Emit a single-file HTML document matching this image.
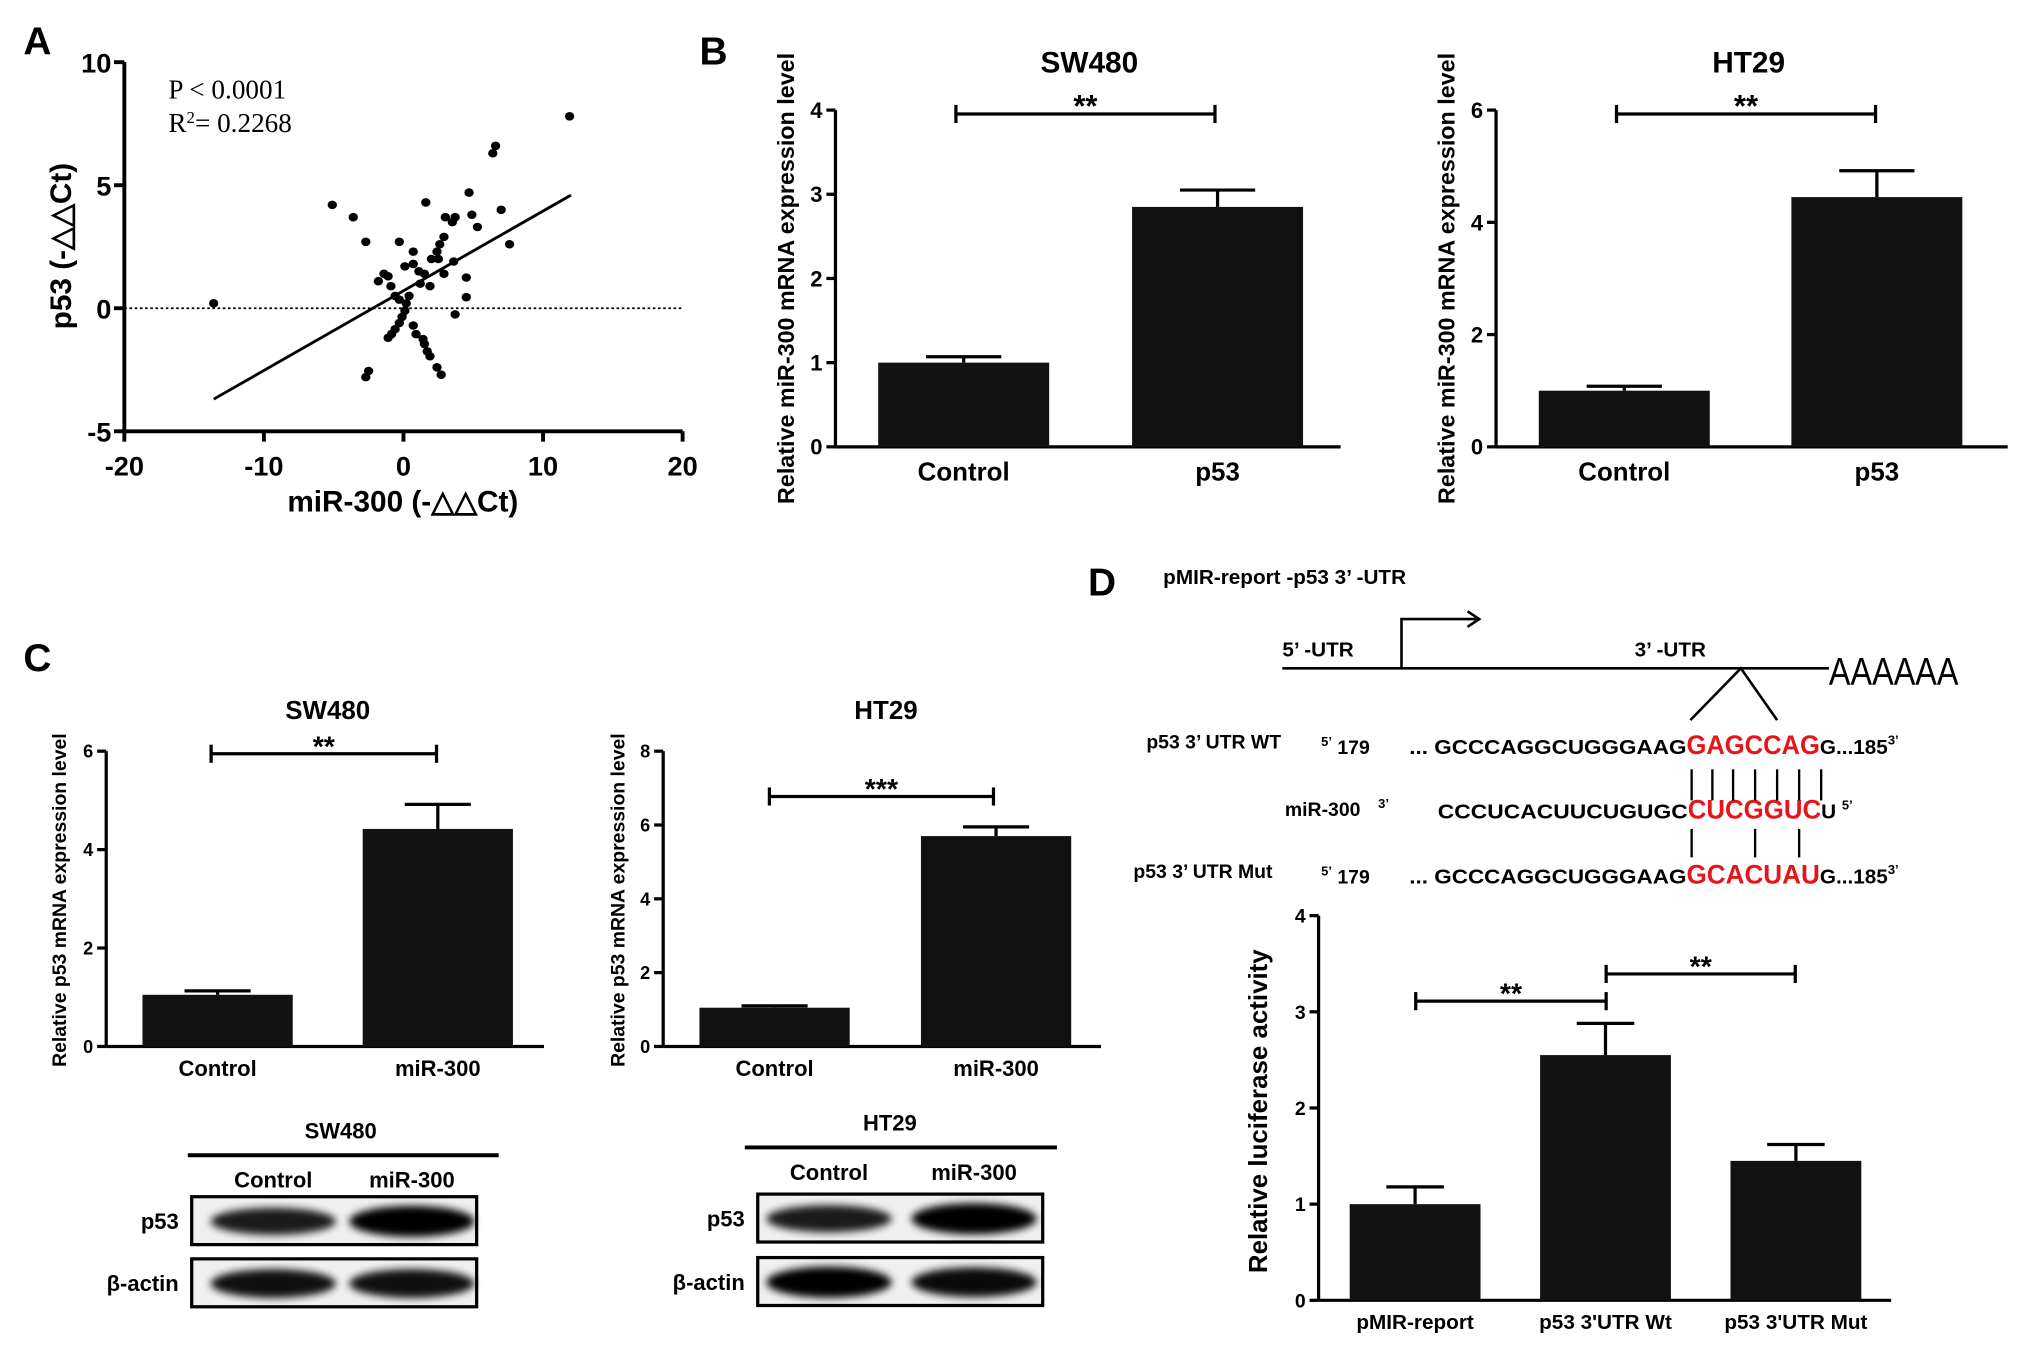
<!DOCTYPE html>
<html><head><meta charset="utf-8">
<style>
html,body{margin:0;padding:0;background:#fff;}
svg{display:block;}
text{font-family:"Liberation Sans",Arial,sans-serif;}
</style></head>
<body>
<svg id="fig" width="2031" height="1356" viewBox="0 0 1568 1047" preserveAspectRatio="none" xmlns="http://www.w3.org/2000/svg">
<defs>
<filter id="blur" x="-20%" y="-50%" width="140%" height="200%"><feGaussianBlur stdDeviation="3"/></filter>
</defs>
<rect x="0" y="0" width="1568" height="1047" fill="#fff"/>
<text x="18" y="42" font-size="30" font-weight="bold">A</text>
<text x="540" y="50" font-size="30" font-weight="bold">B</text>
<text x="18" y="518" font-size="30" font-weight="bold">C</text>
<text x="840" y="460" font-size="30" font-weight="bold">D</text>
<g id="root"></g>
</svg>
<script>
// ---------- Panel A data ----------
const scatterX = [-13.6,-5.1,-3.6,-2.7,-0.3,1.6,4.7,4.9,5.3,7.0,7.6,6.4,6.6,11.9,3.0,3.7,3.5,2.9,2.6,2.4,2.0,2.5,3.6,0.7,0.1,0.7,1.1,1.5,2.9,4.5,4.5,1.9,1.2,-1.4,-1.1,-0.9,-1.8,-0.6,-0.3,0.4,0.2,0.1,-0.1,-0.3,-0.6,-0.85,-1.1,3.7,0.7,0.9,1.4,1.5,1.7,1.9,2.4,2.7,-2.5,-2.7];
const scatterY = [0.2,4.2,3.7,2.7,2.7,4.3,4.7,3.8,3.3,4.0,2.6,6.3,6.6,7.8,3.7,3.7,3.5,2.9,2.6,2.3,2.0,2.0,1.9,2.3,1.7,1.8,1.5,1.4,1.4,1.25,0.45,0.9,1.0,1.4,1.3,0.9,1.1,0.5,0.35,0.5,0.2,-0.1,-0.35,-0.6,-0.85,-1.05,-1.2,-0.25,-0.7,-1.05,-1.25,-1.45,-1.75,-1.95,-2.4,-2.7,-2.55,-2.8];
const fitSlope = 0.324, fitIntercept = 0.71, fitRange = [-13.6, 12];
const aXTicks = [-20,-10,0,10,20];
const aYTicks = [-5,0,5,10];
// ---------- Panel B ----------
const bCategories = ["Control","p53"];
const bSW480Values = [1.0, 2.85];
const bSW480Errors = [0.07, 0.2];
const bSW480Ticks = [0,1,2,3,4];
const bHT29Values = [1.0, 4.45];
const bHT29Errors = [0.08, 0.47];
const bHT29Ticks = [0,2,4,6];
// ---------- Panel C ----------
const cCategories = ["Control","miR-300"];
const cSW480Values = [1.05, 4.42];
const cSW480Errors = [0.08, 0.5];
const cSW480Ticks = [0,2,4,6];
const cHT29Values = [1.05, 5.7];
const cHT29Errors = [0.05, 0.25];
const cHT29Ticks = [0,2,4,6,8];
// ---------- Panel D ----------
const dCategories = ["pMIR-report","p53 3'UTR Wt","p53 3'UTR Mut"];
const dValues = [1.0, 2.55, 1.45];
const dErrors = [0.18, 0.33, 0.17];
const dTicks = [0,1,2,3,4];

const NS="http://www.w3.org/2000/svg";
const root=document.getElementById('root');
function mk(tag,attrs,parent,txt){const e=document.createElementNS(NS,tag);for(const k in attrs)e.setAttribute(k,attrs[k]);if(txt!==undefined)e.textContent=txt;(parent||root).appendChild(e);return e;}
function lin(d0,d1,r0,r1){return v=>r0+(v-d0)/(d1-d0)*(r1-r0);}

// ===== Panel A =====
{
const g=mk('g',{});


const xs=lin(-20,20,96,527), ys=lin(-5,10,333,48);
mk('line',{x1:96,y1:48,x2:96,y2:333,stroke:'#000','stroke-width':3},g);
mk('line',{x1:96,y1:333,x2:527,y2:333,stroke:'#000','stroke-width':3},g);
aXTicks.forEach(t=>{const x=xs(t);mk('line',{x1:x,y1:333,x2:x,y2:341,stroke:'#000','stroke-width':3},g);
 const l=mk('text',{x:x,y:367,'font-size':21,'font-weight':'bold','text-anchor':'middle'},g,String(t));
 });
aYTicks.forEach(t=>{const y=ys(t);mk('line',{x1:88,y1:y,x2:96,y2:y,stroke:'#000','stroke-width':3},g);
 const l=mk('text',{x:86,y:y+8,'font-size':21,'font-weight':'bold','text-anchor':'end'},g,String(t));
 });
const z=mk('line',{x1:96,y1:ys(0),x2:527,y2:ys(0),stroke:'#000','stroke-width':1.3,'stroke-dasharray':'2,2'},g);

const f=mk('line',{x1:xs(fitRange[0]),y1:ys(fitSlope*fitRange[0]+fitIntercept),x2:xs(fitRange[1]),y2:ys(fitSlope*fitRange[1]+fitIntercept),stroke:'#000','stroke-width':2.2},g);

scatterX.forEach((v,i)=>{const c=mk('ellipse',{cx:xs(v),cy:ys(scatterY[i]),rx:3.6,ry:3.3,fill:'#000'},g);
 });
const t1=mk('text',{x:130,y:76,'font-size':21,style:'font-family:"Liberation Serif",serif'},g,'P \u003c 0.0001');

const t2=mk('text',{x:130,y:102,'font-size':21,style:'font-family:"Liberation Serif",serif'},g);

t2.innerHTML='R<tspan font-size="13" dy="-7">2</tspan><tspan dy="7">= 0.2268</tspan>';
const xl=mk('text',{x:311,y:395,'font-size':23,'font-weight':'bold','text-anchor':'middle'},g,'miR-300 (-\u25B3\u25B3Ct)');

const yl=mk('text',{x:0,y:0,'font-size':23,'font-weight':'bold','text-anchor':'middle',transform:'translate(55,190) rotate(-90)'},g,'p53 (-\u25B3\u25B3Ct)');

}

// ===== Generic bar chart =====
function barChart(o){
 const g=mk('g',{});
 
 
 const ys=lin(0,o.ymax,o.y0,o.yTop);
 const sw=o.sw||2.5;
 mk('line',{x1:o.ax,y1:o.yTop,x2:o.ax,y2:o.y0,stroke:'#000','stroke-width':sw},g);
 mk('line',{x1:o.ax,y1:o.y0,x2:o.axEnd,y2:o.y0,stroke:'#000','stroke-width':sw},g);
 o.ticks.forEach(t=>{const y=ys(t);mk('line',{x1:o.ax-7,y1:y,x2:o.ax,y2:y,stroke:'#000','stroke-width':sw},g);
  const l=mk('text',{x:o.ax-10,y:y+o.tf*0.36,'font-size':o.tf,'font-weight':'bold','text-anchor':'end'},g,String(t));
  });
 o.values.forEach((v,i)=>{
  const x0=o.barX[i], w=o.barW, cx=x0+w/2;
  const e=o.errors[i];
  const el=mk('line',{x1:cx,y1:ys(v),x2:cx,y2:ys(v+e),stroke:'#000','stroke-width':2.5},g);
  
  mk('line',{x1:cx-w*0.22,y1:ys(v+e),x2:cx+w*0.22,y2:ys(v+e),stroke:'#000','stroke-width':2.5},g);
  const r=mk('rect',{x:x0,y:ys(v),width:w,height:o.y0-ys(v),fill:'#111'},g);
  
  
  const l=mk('text',{x:cx,y:o.y0+o.xf+6,'font-size':o.xf,'font-weight':'bold','text-anchor':'middle'},g,o.cats[i]);
  
 });
 if(o.title){const t=mk('text',{x:o.titleX,y:o.titleY,'font-size':o.titleF,'font-weight':'bold','text-anchor':'middle'},g,o.title);
  }
 const yl=mk('text',{x:0,y:0,'font-size':o.ylf,'font-weight':'bold','text-anchor':'middle',transform:`translate(${o.ylx},${o.yly}) rotate(-90)`},g,o.ylabel);
 
 (o.brackets||[]).forEach(b=>{
  const bg=mk('g',{},g);
  
  mk('line',{x1:b[0],y1:b[2],x2:b[1],y2:b[2],stroke:'#000','stroke-width':2.5},bg);
  mk('line',{x1:b[0],y1:b[2]-7,x2:b[0],y2:b[2]+7,stroke:'#000','stroke-width':2.5},bg);
  mk('line',{x1:b[1],y1:b[2]-7,x2:b[1],y2:b[2]+7,stroke:'#000','stroke-width':2.5},bg);
  mk('text',{x:(b[0]+b[1])/2,y:b[2]+2,'font-size':o.sf||24,'font-weight':'bold','text-anchor':'middle'},bg,b[3]);
 });
}
barChart({name:'bar-chart-b-sw480',ax:645,axEnd:1035,y0:345,yTop:85,ymax:4,ticks:bSW480Ticks,tf:17,xf:20,values:bSW480Values,errors:bSW480Errors,
 barX:[678,874],barW:132,cats:bCategories,title:'SW480',titleX:841,titleY:56,titleF:23,ylabel:'Relative miR-300 mRNA expression level',ylf:18,ylx:613,yly:215,
 brackets:[[738,938,88,'**']]});
barChart({name:'bar-chart-b-ht29',ax:1155,axEnd:1550,y0:345,yTop:85,ymax:6,ticks:bHT29Ticks,tf:17,xf:20,values:bHT29Values,errors:bHT29Errors,
 barX:[1188,1383],barW:132,cats:bCategories,title:'HT29',titleX:1350,titleY:56,titleF:23,ylabel:'Relative miR-300 mRNA expression level',ylf:18,ylx:1123,yly:215,
 brackets:[[1248,1448,88,'**']]});
barChart({name:'bar-chart-c-sw480',ax:82,axEnd:420,y0:808,yTop:580,ymax:6,ticks:cSW480Ticks,tf:14,xf:17,values:cSW480Values,errors:cSW480Errors,
 barX:[110,280],barW:116,cats:cCategories,title:'SW480',titleX:253,titleY:555,titleF:20,ylabel:'Relative p53 mRNA expression level',ylf:15,ylx:51,yly:695,
 brackets:[[163,337,582,'**']],sf:22});
barChart({name:'bar-chart-c-ht29',ax:512,axEnd:850,y0:808,yTop:580,ymax:8,ticks:cHT29Ticks,tf:14,xf:17,values:cHT29Values,errors:cHT29Errors,
 barX:[540,711],barW:116,cats:cCategories,title:'HT29',titleX:684,titleY:555,titleF:20,ylabel:'Relative p53 mRNA expression level',ylf:15,ylx:482,yly:695,
 brackets:[[594,767,615,'***']],sf:22});
barChart({name:'bar-chart-d-luciferase',ax:1018,axEnd:1460,y0:1004,yTop:707,ymax:4,ticks:dTicks,tf:15,xf:16,values:dValues,errors:dErrors,
 barX:[1042,1189,1336],barW:101,cats:dCategories,ylabel:'Relative luciferase activity',ylf:20,ylx:978,yly:858,
 brackets:[[1093,1240,773,'**'],[1240,1386,752,'**']],sf:22});

// ===== Western blots =====
const blotSW480P53 = [0.75, 1.0];
const blotSW480Actin = [0.85, 0.85];
const blotHT29P53 = [0.75, 1.0];
const blotHT29Actin = [1.0, 0.9];
function blot(o){
 const g=mk('g',{});
 
 
 const t=mk('text',{x:o.titleX,y:o.titleY,'font-size':17,'font-weight':'bold','text-anchor':'middle'},g,o.title);
 
 mk('line',{x1:o.lx0,y1:o.ly,x2:o.lx1,y2:o.ly,stroke:'#000','stroke-width':3},g);
 ['Control','miR-300'].forEach((c,i)=>{const l=mk('text',{x:o.laneX[i],y:o.ly+25,'font-size':17,'font-weight':'bold','text-anchor':'middle'},g,c);
  });
 [['p53',o.p53Y,o.p53],['\u03B2-actin',o.actY,o.act]].forEach(r=>{
  mk('rect',{x:o.bx,y:r[1],width:o.bw,height:37,fill:'#f0f0f0',stroke:'#000','stroke-width':2.5},g);
  r[2].forEach((v,i)=>{const b=mk('ellipse',{cx:o.laneX[i],cy:r[1]+19,rx:o.bw*0.22,ry:6+6*v,fill:'#000',opacity:0.55+0.45*v,filter:'url(#blur)'},g);
   });
  const l=mk('text',{x:o.bx-10,y:r[1]+25,'font-size':17,'font-weight':'bold','text-anchor':'end'},g,r[0]);
  
 });
}
blot({name:'western-blot-sw480',title:'SW480',titleX:263,titleY:879,lx0:145,lx1:385,ly:892,laneX:[211,318],bx:148,bw:220,p53Y:924,actY:972,p53:blotSW480P53,act:blotSW480Actin});
blot({name:'western-blot-ht29',title:'HT29',titleX:687,titleY:873,lx0:575,lx1:816,ly:886,laneX:[640,752],bx:585,bw:220,p53Y:922,actY:971,p53:blotHT29P53,act:blotHT29Actin});

// ===== Panel D schematic =====
{
const g=mk('g',{});


mk('text',{x:898,y:451,'font-size':16,'font-weight':'bold'},g,"pMIR-report -p53 3\u2019 -UTR");
mk('line',{x1:990,y1:516,x2:1412,y2:516,stroke:'#000','stroke-width':2},g);
mk('polyline',{points:'1082,516 1082,478 1140,478',fill:'none',stroke:'#000','stroke-width':2},g);
mk('polyline',{points:'1133,472 1142,478 1133,484',fill:'none',stroke:'#000','stroke-width':2},g);
mk('text',{x:990,y:507,'font-size':16,'font-weight':'bold'},g,"5\u2019 -UTR");
mk('text',{x:1262,y:507,'font-size':16,'font-weight':'bold'},g,"3\u2019 -UTR");
mk('text',{x:1412,y:529,'font-size':30,textLength:100,lengthAdjust:'spacingAndGlyphs'},g,'AAAAAA');
mk('polyline',{points:'1305,556 1344,516 1372,556',fill:'none',stroke:'#000','stroke-width':2},g);
const rows=[[578,'p53 3\u2019 UTR  WT',885,'... GCCCAGGCUGGGAAG','GAGCCAG','G...185'],
            [678,'p53  3\u2019 UTR  Mut',875,'... GCCCAGGCUGGGAAG','GCACUAU','G...185']];
rows.forEach(r=>{
 mk('text',{x:r[2],y:r[0],'font-size':15,'font-weight':'bold'},g,r[1]);
 const t=mk('text',{x:1020,y:r[0]+4,'font-size':15,'font-weight':'bold'},g);
 t.innerHTML='<tspan font-size="10" dy="-6">5\u2019</tspan><tspan dy="6"> 179</tspan>';
 const s=mk('text',{x:1088,y:r[0]+4,'font-size':16,'font-weight':'bold'},g);
 s.innerHTML=`<tspan textLength="214" lengthAdjust="spacingAndGlyphs">${r[3]}</tspan><tspan fill="#e8141b" font-size="21" textLength="103" lengthAdjust="spacingAndGlyphs">${r[4]}</tspan><tspan>${r[5]}</tspan><tspan font-size="10" dy="-7">3\u2019</tspan>`;
});
mk('text',{x:992,y:630,'font-size':15,'font-weight':'bold'},g,'miR-300');
mk('text',{x:1064,y:624,'font-size':10,'font-weight':'bold'},g,'3\u2019');
const m=mk('text',{x:1110,y:632,'font-size':16,'font-weight':'bold'},g);
m.innerHTML='<tspan textLength="193" lengthAdjust="spacingAndGlyphs">CCCUCACUUCUGUGC</tspan><tspan fill="#e8141b" font-size="21" textLength="103" lengthAdjust="spacingAndGlyphs">CUCGGUC</tspan><tspan>U </tspan><tspan font-size="10" dy="-7">5\u2019</tspan>';
[1306,1322,1338,1355,1372,1389,1406].forEach(x=>mk('line',{x1:x,y1:594,x2:x,y2:618,stroke:'#000','stroke-width':1.8},g));
[1306,1355,1389].forEach(x=>mk('line',{x1:x,y1:640,x2:x,y2:662,stroke:'#000','stroke-width':1.8},g));
}
</script>
</body></html>
